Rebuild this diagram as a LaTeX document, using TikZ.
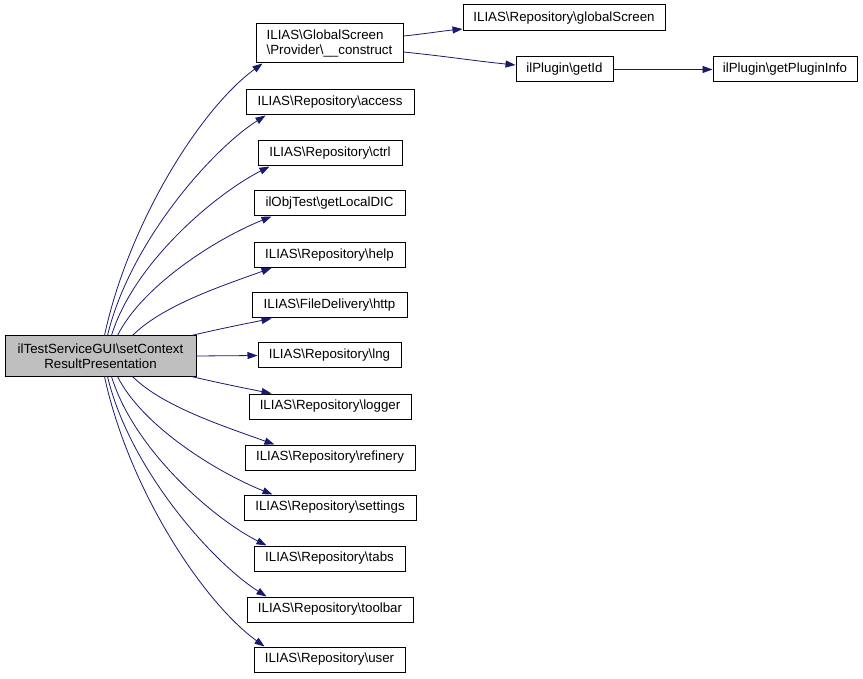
\documentclass[tikz,border=0pt]{standalone}
\usepackage{fontspec}
\setmainfont{Liberation Sans}
\usetikzlibrary{arrows.meta}
\definecolor{edgeblue}{RGB}{25,25,112}
\definecolor{mainfill}{RGB}{191,191,191}
\begin{document}
\begin{tikzpicture}[x=1pt,y=-1pt,
  box/.style={draw=black, line width=1pt, inner sep=0pt, align=center,
    font=\fontsize{13.3}{15}\selectfont, fill=white},
  edge/.style={draw=edgeblue, line width=0.8pt,
    -{Triangle[length=10pt,width=7pt]}, color=edgeblue}]
\useasboundingbox[fill=white] (0,0) rectangle (863,679);
% nodes
\node[box, fill=mainfill, minimum width=191pt, minimum height=40pt] (main) at (100.5,356) {ilTestServiceGUI\textbackslash setContext\\ResultPresentation};
\node[box, align=left, minimum width=147pt, minimum height=39pt] (gs) at (329.5,43.5) {ILIAS\textbackslash GlobalScreen\\\textbackslash Provider\textbackslash \_\_construct};
\node[box, minimum width=168pt, minimum height=25pt] (access) at (330,102.5) {ILIAS\textbackslash Repository\textbackslash access};
\node[box, minimum width=144pt, minimum height=25pt] (ctrl) at (330,153.5) {ILIAS\textbackslash Repository\textbackslash ctrl};
\node[box, minimum width=151pt, minimum height=25pt] (dic) at (329.5,203.5) {ilObjTest\textbackslash getLocalDIC};
\node[box, minimum width=151pt, minimum height=25pt] (help) at (329.5,255) {ILIAS\textbackslash Repository\textbackslash help};
\node[box, minimum width=155pt, minimum height=25pt] (http) at (329.5,305.5) {ILIAS\textbackslash FileDelivery\textbackslash http};
\node[box, minimum width=143pt, minimum height=25pt] (lng) at (329.5,355.5) {ILIAS\textbackslash Repository\textbackslash lng};
\node[box, minimum width=162pt, minimum height=25pt] (logger) at (330,406.5) {ILIAS\textbackslash Repository\textbackslash logger};
\node[box, minimum width=170pt, minimum height=25pt] (refinery) at (330,457.5) {ILIAS\textbackslash Repository\textbackslash refinery};
\node[box, minimum width=172pt, minimum height=25pt] (settings) at (330,507.5) {ILIAS\textbackslash Repository\textbackslash settings};
\node[box, minimum width=151pt, minimum height=25pt] (tabs) at (329.5,558.5) {ILIAS\textbackslash Repository\textbackslash tabs};
\node[box, minimum width=166pt, minimum height=25pt] (toolbar) at (330,609.5) {ILIAS\textbackslash Repository\textbackslash toolbar};
\node[box, minimum width=151pt, minimum height=25pt] (user) at (329.5,659.5) {ILIAS\textbackslash Repository\textbackslash user};
\node[box, minimum width=202pt, minimum height=26pt] (gscreen) at (564,18) {ILIAS\textbackslash Repository\textbackslash globalScreen};
\node[box, minimum width=97pt, minimum height=25pt] (getid) at (564.5,69.5) {ilPlugin\textbackslash getId};
\node[box, minimum width=144pt, minimum height=25pt] (pinfo) at (785,69.5) {ilPlugin\textbackslash getPluginInfo};
% upper edges
\draw[edge] ([xshift=100pt]main.north west) .. controls +(24,-112) and +(-62,45) .. ([xshift=7pt]gs.south west);
\draw[edge] ([xshift=103pt]main.north west) .. controls +(22,-92) and +(-55,35) .. ([xshift=20pt]access.south west);
\draw[edge] ([xshift=107pt]main.north west) .. controls +(22,-72) and +(-55,28) .. ([xshift=12pt]ctrl.south west);
\draw[edge] ([xshift=113pt]main.north west) .. controls +(25,-50) and +(-55,22) .. ([xshift=18pt]dic.south west);
\draw[edge] ([xshift=128pt]main.north west) .. controls +(30,-30) and +(-50,18) .. ([xshift=18pt]help.south west);
\draw[edge] ([xshift=187pt]main.north west) .. controls +(25,-6) and +(-25,5) .. ([xshift=20pt]http.south west);
% middle
\draw[edge] (main.east) -- (lng.west);
% lower edges
\draw[edge] ([xshift=187pt]main.south west) .. controls +(25,6) and +(-25,-5) .. ([xshift=23pt]logger.north west);
\draw[edge] ([xshift=128pt]main.south west) .. controls +(30,30) and +(-50,-18) .. ([xshift=30pt]refinery.north west);
\draw[edge] ([xshift=113pt]main.south west) .. controls +(25,50) and +(-55,-22) .. ([xshift=29pt]settings.north west);
\draw[edge] ([xshift=107pt]main.south west) .. controls +(22,72) and +(-55,-28) .. ([xshift=13pt]tabs.north west);
\draw[edge] ([xshift=103pt]main.south west) .. controls +(22,92) and +(-55,-35) .. ([xshift=20pt]toolbar.north west);
\draw[edge] ([xshift=100pt]main.south west) .. controls +(24,112) and +(-62,-45) .. ([xshift=11pt]user.north west);
% right edges
\draw[edge] ([yshift=7.5pt]gs.east) .. controls +(20,-2) and +(-20,2) .. ([yshift=-11pt]gscreen.west);
\draw[edge] ([yshift=-8.5pt]gs.east) .. controls +(40,4) and +(-40,-4) .. ([yshift=4.5pt]getid.west);
\draw[edge] (getid.east) -- (pinfo.west);
\end{tikzpicture}
\end{document}
